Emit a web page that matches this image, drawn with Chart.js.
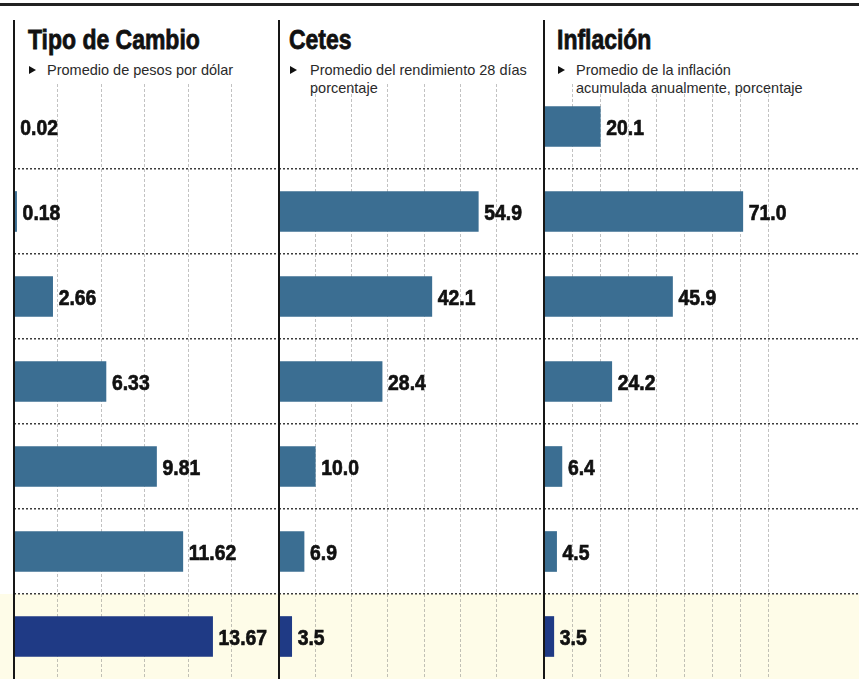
<!DOCTYPE html>
<html>
<head>
<meta charset="utf-8">
<script src="https://cdn.jsdelivr.net/npm/chart.js@4"></script>
<style>
  body { margin: 0; background: #fff; width: 859px; height: 682px; overflow: hidden; position: relative;
         font-family: "Liberation Sans", Arial, sans-serif; }
  .rule { position: absolute; left: 0; top: 3px; width: 859px; height: 3px; background: #222; }
  .axis { position: absolute; top: 20px; width: 2px; height: 659px; background: #161616; z-index: 2; }
  .title { position: absolute; top: 24px; font-weight: bold; font-size: 28px; line-height: 32px; color: #111;
           transform: scaleX(0.82); transform-origin: left top; -webkit-text-stroke: 0.8px #111; white-space: nowrap; }
  .sub { position: absolute; top: 61px; font-size: 14.5px; line-height: 18px; color: #2a2a2a; white-space: nowrap; }
  .sub .tri { position: absolute; top: 5px; width: 0; height: 0;
              border-left: 7px solid #111; border-top: 4px solid transparent; border-bottom: 4px solid transparent; }
  canvas { position: absolute; top: 84px; }
</style>
</head>
<body>
<div class="rule"></div>

<div class="axis" style="left:13px"></div>
<div class="axis" style="left:278px"></div>
<div class="axis" style="left:543px"></div>

<div class="title" style="left:28px">Tipo de Cambio</div>
<div class="sub" style="left:47px"><span class="tri" style="left:-18px"></span>Promedio de pesos por dólar</div>

<div class="title" style="left:289px">Cetes</div>
<div class="sub" style="left:310px"><span class="tri" style="left:-20px"></span>Promedio del rendimiento 28 días<br>porcentaje</div>

<div class="title" style="left:557px">Inflación</div>
<div class="sub" style="left:576px"><span class="tri" style="left:-18px"></span>Promedio de la inflación<br>acumulada anualmente, porcentaje</div>

<canvas id="chartCambio" width="279" height="595" style="left:0px"></canvas>
<canvas id="chartCetes" width="265" height="595" style="left:279px"></canvas>
<canvas id="chartInflacion" width="315" height="595" style="left:544px"></canvas>

<script>
// periodos (las etiquetas no se muestran en la gráfica)
const categories = ["1970-1976", "1976-1982", "1982-1988", "1988-1994", "1994-2000", "2000-2006", "2006-2012"];
const tipoCambio = [0.02, 0.18, 2.66, 6.33, 9.81, 11.62, 13.67];
const cetes = [null, 54.9, 42.1, 28.4, 10.0, 6.9, 3.5];
const inflacion = [20.1, 71.0, 45.9, 24.2, 6.4, 4.5, 3.5];

// lineas guia verticales de cada panel
const gridCambio = [3, 6, 9, 12, 15];
const gridCetes = [10, 20, 30, 40, 50, 60];
const gridInflacion = [10, 20, 30, 40, 50, 60, 70, 80];

const barLabels = {
    id: "barLabels",
    beforeDraw(chart) {
        // banda amarilla del ultimo periodo
        const { ctx, chartArea, scales: { y } } = chart;
        const half = y.height / categories.length / 2;
        const top = y.getPixelForValue(categories.length - 1) - half;
        ctx.save();
        ctx.fillStyle = "#fefce8";
        ctx.fillRect(0, top, chart.width, chartArea.bottom - top);
        ctx.restore();
    },
    afterDatasetsDraw(chart, args, opts) {
        const ctx = chart.ctx;
        const values = chart.data.datasets[0].data;
        chart.getDatasetMeta(0).data.forEach((bar, i) => {
            if (values[i] === null) return;
            const text = values[i].toFixed(opts.decimals);
            ctx.save();
            ctx.translate(bar.x + 6, bar.y + 2);
            ctx.scale(0.88, 1);
            ctx.font = 'bold 22px "Liberation Sans", Arial, sans-serif';
            ctx.fillStyle = "#111";
            ctx.strokeStyle = "#111";
            ctx.lineWidth = 0.7;
            ctx.textBaseline = "middle";
            ctx.fillText(text, 0, 0);
            ctx.strokeText(text, 0, 0);
            ctx.restore();
        });
    }
};

function makeChart(id, values, max, gridValues, decimals, padLeft) {
    return new Chart(document.getElementById(id), {
        type: "bar",
        data: {
            labels: categories,
            datasets: [{
                data: values,
                backgroundColor: values.map((v, i) => i === values.length - 1 ? "#1f3a85" : "#3b6e92"),
                borderWidth: 0,
                barThickness: 40
            }]
        },
        options: {
            indexAxis: "y",
            responsive: false,
            animation: false,
            layout: { padding: { left: padLeft, right: 0, top: 0, bottom: 0 } },
            plugins: {
                legend: { display: false },
                tooltip: { enabled: false },
                barLabels: { decimals: decimals }
            },
            scales: {
                x: {
                    min: 0,
                    max: max,
                    afterBuildTicks: s => { s.ticks = gridValues.map(v => ({ value: v })); },
                    ticks: { display: false },
                    border: { display: false, dash: [3, 2] },
                    grid: { drawTicks: false, lineWidth: 1, color: "rgba(120,120,120,0.45)" }
                },
                y: {
                    ticks: { display: false },
                    border: { display: false, dash: [2, 2] },
                    grid: {
                        drawTicks: false,
                        lineWidth: 1.5,
                        color: c => (c.index >= 1 && c.index < categories.length) ? "#3c3c3c" : "transparent"
                    }
                }
            }
        },
        plugins: [barLabels]
    });
}

makeChart("chartCambio", tipoCambio, 18.24, gridCambio, 2, 14);
makeChart("chartCetes", cetes, 73, gridCetes, 1, 0);
makeChart("chartInflacion", inflacion, 112.5, gridInflacion, 1, 0);
</script>
</body>
</html>
